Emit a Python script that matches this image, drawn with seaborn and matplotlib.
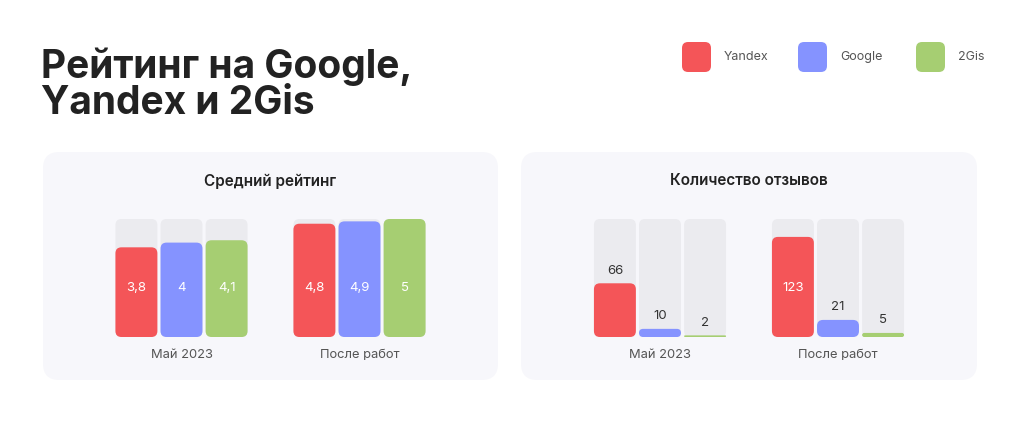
import matplotlib
matplotlib.use("Agg")
import matplotlib.pyplot as plt
import pandas as pd
import seaborn as sns
from matplotlib.patches import FancyBboxPatch

periods = ["Май 2023", "После работ"]
sources = ["Yandex", "Google", "2Gis"]
source_colors = ["#F45558", "#8593FF", "#A6CE72"]

rating_may = [3.8, 4.0, 4.1]
rating_after = [4.8, 4.9, 5.0]
rating_labels_may = ["3,8", "4", "4,1"]
rating_labels_after = ["4,8", "4,9", "5"]
rating_max = 5

reviews_may = [66, 10, 2]
reviews_after = [123, 21, 5]
reviews_max = 145

TRACK = "#EBEBEF"
CARD = "#F7F7FB"
DARK = "#222222"
GREY_TEXT = "#555555"

sns.set_theme(style="white")
plt.rcParams["font.family"] = ["Inter", "DejaVu Sans"]

W, H = 1020, 424
fig = plt.figure(figsize=(W / 100, H / 100), dpi=100)
fig.patch.set_facecolor("white")


def px_box(x0, y0, x1, y1):
    # pixel box (top-left origin) -> figure fraction [left, bottom, width, height]
    return [x0 / W, 1 - y1 / H, (x1 - x0) / W, (y1 - y0) / H]


def card(x0, y0, x1, y1):
    l, b, w, h = px_box(x0, y0, x1, y1)
    fig.patches.append(FancyBboxPatch(
        (l, b), w, h, boxstyle="round,pad=0,rounding_size=0.016",
        mutation_aspect=W / H, transform=fig.transFigure,
        facecolor=CARD, edgecolor="none", zorder=-5))


def round_bars(ax, radius_px=6):
    fig.canvas.draw()
    bb = ax.get_window_extent()
    x0, x1 = ax.get_xlim()
    y0, y1 = ax.get_ylim()
    ppx = bb.width / (x1 - x0)
    ppy = bb.height / (y1 - y0)
    for p in list(ax.patches):
        x, y, w, h = p.get_x(), p.get_y(), p.get_width(), p.get_height()
        if h <= 0:
            continue
        r = min(radius_px, h * ppy / 2) / ppx
        ax.add_patch(FancyBboxPatch(
            (x, y), w, h, boxstyle=f"round,pad=0,rounding_size={r}",
            mutation_aspect=ppx / ppy, facecolor=p.get_facecolor(),
            edgecolor="none", zorder=p.get_zorder()))
        p.remove()


def bar_panel(rect, values_a, values_b, vmax, labels_a, labels_b, title, title_y):
    ax = fig.add_axes(rect)
    ax.set_zorder(2)
    df = pd.DataFrame({
        "period": [periods[0]] * 3 + [periods[1]] * 3,
        "source": sources * 2,
        "value": values_a + values_b,
        "track": [vmax] * 6,
        "label": labels_a + labels_b,
    })
    sns.barplot(data=df, x="period", y="track", hue="source",
                palette=[TRACK] * 3, width=0.76, gap=0.07, saturation=1,
                ax=ax, legend=False, zorder=1)
    sns.barplot(data=df, x="period", y="value", hue="source",
                palette=source_colors, width=0.76, gap=0.07, saturation=1,
                ax=ax, legend=False, zorder=2)
    ax.set_xlim(-0.5, 1.5)
    ax.set_ylim(0, vmax)
    ax.axis("off")

    label_y = 0.415 * vmax
    bars = ax.patches[6:]
    order = [0, 3, 1, 4, 2, 5]  # patches come hue-major
    for bar, i in zip(bars, order):
        xc = bar.get_x() + bar.get_width() / 2
        val = df["value"][i]
        if val / vmax > 0.6:
            ax.text(xc, label_y, df["label"][i], ha="center", va="center",
                    fontsize=9.5, color="white", zorder=5)
        else:
            ax.annotate(df["label"][i], (xc, val), xytext=(0, 9),
                        textcoords="offset points", ha="center", va="center",
                        fontsize=9.5, color="#333333", annotation_clip=False,
                        zorder=5)

    for k, name in enumerate(periods):
        ax.text(k, -0.15 * vmax, name, ha="center", va="center",
                fontsize=9.3, color=GREY_TEXT)

    l, b, w, h = rect
    fig.text(l + w / 2, 1 - title_y / H, title, ha="center", va="center",
             fontsize=11, fontweight="semibold", color=DARK)
    return ax


card(43, 152, 498, 380)
card(521, 152, 977, 380)

ax1 = bar_panel(px_box(92.5, 219, 448.5, 337), rating_may, rating_after,
                rating_max, rating_labels_may, rating_labels_after,
                "Средний рейтинг", 181)
ax2 = bar_panel(px_box(571, 219, 927, 337), reviews_may, reviews_after,
                reviews_max, [str(v) for v in reviews_may],
                [str(v) for v in reviews_after], "Количество отзывов", 181)
round_bars(ax1)
round_bars(ax2)

fig.text(41 / W, 1 - 78 / H, "Рейтинг на Google,", fontsize=28,
         fontweight="bold", color=DARK, va="baseline", ha="left")
fig.text(41 / W, 1 - 114 / H, "Yandex и 2Gis", fontsize=28,
         fontweight="bold", color=DARK, va="baseline", ha="left")

# legend
leg_x = [682, 798, 916]
for x, name, col in zip(leg_x, sources, source_colors):
    l, b, w, h = px_box(x, 42, x + 29, 72)
    fig.patches.append(FancyBboxPatch(
        (l, b), w, h, boxstyle="round,pad=0,rounding_size=0.006",
        mutation_aspect=W / H, transform=fig.transFigure,
        facecolor=col, edgecolor="none"))
    fig.text((x + 42) / W, 1 - 57 / H, name, fontsize=9,
             color=GREY_TEXT, va="center", ha="left")

fig.savefig("out.png", dpi=100, facecolor="white")
